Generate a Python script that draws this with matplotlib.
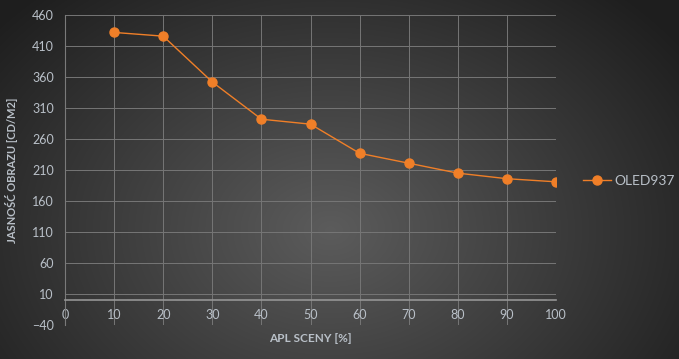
import numpy as np
import matplotlib
matplotlib.use('Agg')
import matplotlib.pyplot as plt
from matplotlib.lines import Line2D

plt.rcParams['font.family'] = ['Lato', 'DejaVu Sans']

apl = [10, 20, 30, 40, 50, 60, 70, 80, 90, 100]
oled937 = [432, 426, 352, 292, 284, 237, 221, 205, 196, 191]
series_name = 'OLED937'
x_ticks = list(range(0, 101, 10))
y_ticks = list(range(-40, 461, 50))

orange = '#f07f28'
text_col = '#b9c0c8'
grid_col = '#767676'

fig = plt.figure(figsize=(6.79, 3.59), dpi=100)

# radial gradient background
bg = fig.add_axes([0, 0, 1, 1], zorder=-10)
yy, xx = np.mgrid[0:359, 0:679]
r = np.sqrt(((xx - 330) / 430.0) ** 2 + ((yy - 230) / 320.0) ** 2)
shade = np.clip(0.36 - 0.24 * r, 0.12, 0.36)
bg.imshow(np.dstack([shade] * 3), aspect='auto', extent=[0, 1, 0, 1])
bg.axis('off')

ax = fig.add_axes([0.0957, 0.0947, 0.7233, 0.8633])
ax.patch.set_alpha(0)

ax.plot(apl, oled937, '-o', color=orange, lw=1, ms=6.5, mec=orange, mfc=orange)

ax.set_xlim(0, 100)
ax.set_ylim(-40, 460)
ax.set_xticks(x_ticks)
ax.set_yticks(y_ticks)
ax.grid(True, color=grid_col, lw=0.7)

for s in ['top', 'right']:
    ax.spines[s].set_visible(False)
ax.spines['bottom'].set_position(('data', 0))
ax.spines['bottom'].set_color('#959595')
ax.spines['bottom'].set_linewidth(1.2)
ax.spines['left'].set_color('#7a7a7a')
ax.tick_params(length=0, colors=text_col, labelsize=9)
ax.tick_params(axis='x', pad=6)
ax.tick_params(axis='y', pad=8)

ax.set_xlabel('APL SCENY [%]', color=text_col, fontsize=8.5, fontweight='bold')
ax.xaxis.set_label_coords(0.5, -0.025)
ax.set_ylabel('JASNOŚĆ OBRAZU [CD/M2]', color=text_col, fontsize=8, fontweight='bold')
ax.yaxis.set_label_coords(-0.096, 0.5)

handle = Line2D([], [], color=orange, marker='o', ms=6.5, lw=1)
leg = fig.legend([handle], [series_name], loc='center left',
                 bbox_to_anchor=(0.84, 0.495), frameon=False,
                 labelcolor=text_col, fontsize=10, handlelength=2.0,
                 handletextpad=0.3)

fig.savefig('out.png', dpi=100)
